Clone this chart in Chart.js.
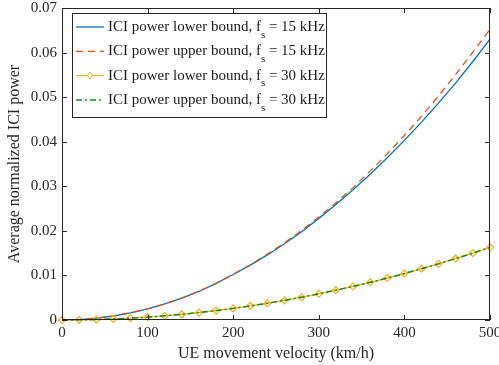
<!DOCTYPE html>
<html>
<head>
<meta charset="utf-8">
<script src="https://cdn.jsdelivr.net/npm/chart.js@4.4.1/dist/chart.umd.min.js"></script>
<style>
  html, body { margin: 0; padding: 0; background: #fff; }
  #wrap { width: 499px; height: 365px; }
</style>
</head>
<body>
<div id="wrap"><canvas id="iciChart" width="499" height="365"></canvas></div>
<script>
// velocity in km/h, one sample every 20 km/h
const velocity = [0, 20, 40, 60, 80, 100, 120, 140, 160, 180, 200, 220, 240, 260, 280, 300, 320, 340, 360, 380, 400, 420, 440, 460, 480, 500];

const lower15 = [0, 0.0001, 0.0004, 0.0009, 0.0016, 0.0025, 0.0036, 0.0049, 0.0064, 0.0082, 0.0102, 0.0123, 0.0146, 0.0171, 0.0198, 0.0228, 0.0259, 0.0292, 0.0327, 0.0364, 0.0403, 0.0444, 0.0487, 0.0532, 0.0580, 0.0630];
const upper15 = [0, 0.0001, 0.0004, 0.0009, 0.0016, 0.0025, 0.0036, 0.0049, 0.0065, 0.0082, 0.0103, 0.0124, 0.0148, 0.0173, 0.0201, 0.0231, 0.0263, 0.0297, 0.0334, 0.0373, 0.0414, 0.0457, 0.0503, 0.0551, 0.0601, 0.0652];
const lower30 = [0, 0.00003, 0.0001, 0.00024, 0.00042, 0.00065, 0.00094, 0.00128, 0.00167, 0.00211, 0.0026, 0.00316, 0.00376, 0.00441, 0.00511, 0.00587, 0.00668, 0.00754, 0.00845, 0.00941, 0.01043, 0.0115, 0.0126, 0.0138, 0.0150, 0.0163];
const upper30 = [0, 0.00003, 0.0001, 0.00024, 0.00042, 0.00065, 0.00094, 0.00128, 0.00167, 0.00211, 0.0026, 0.00316, 0.00376, 0.00441, 0.00511, 0.00587, 0.00668, 0.00754, 0.00845, 0.00941, 0.01043, 0.0115, 0.0126, 0.0138, 0.0150, 0.0163];

const xTicks = [0, 100, 200, 300, 400, 500];
const yTicks = [0, 0.01, 0.02, 0.03, 0.04, 0.05, 0.06, 0.07];

const legendLabels = [
    ['ICI power lower bound, f', 's', ' = 15 kHz'],
    ['ICI power upper bound, f', 's', ' = 15 kHz'],
    ['ICI power lower bound, f', 's', ' = 30 kHz'],
    ['ICI power upper bound, f', 's', ' = 30 kHz']
];

const serif = '"Liberation Serif", "DejaVu Serif", serif';

function pts(ys) {
    return velocity.map((v, i) => ({ x: v, y: ys[i] }));
}

// box around the axes plus inward ticks, matlab style
const boxPlugin = {
    id: 'boxPlugin',
    afterDraw(chart) {
        const { ctx, chartArea: a, scales } = chart;
        ctx.save();
        ctx.strokeStyle = '#262626';
        ctx.lineWidth = 1;
        ctx.strokeRect(a.left + 0.5, a.top + 0.5, a.right - a.left - 1, a.bottom - a.top - 1);
        ctx.beginPath();
        xTicks.forEach(t => {
            const px = Math.round(scales.x.getPixelForValue(t)) + 0.5;
            ctx.moveTo(px, a.bottom); ctx.lineTo(px, a.bottom - 5);
            ctx.moveTo(px, a.top); ctx.lineTo(px, a.top + 5);
        });
        yTicks.forEach(t => {
            const py = Math.round(scales.y.getPixelForValue(t)) + 0.5;
            ctx.moveTo(a.left, py); ctx.lineTo(a.left + 5, py);
            ctx.moveTo(a.right, py); ctx.lineTo(a.right - 5, py);
        });
        ctx.stroke();
        ctx.restore();
    }
};

// legend box drawn inside the plot, top left
const legendPlugin = {
    id: 'insideLegend',
    afterDraw(chart) {
        const { ctx, chartArea: a } = chart;
        const x0 = a.left + 10, y0 = a.top + 5, w = 254, h = 104;
        ctx.save();
        ctx.fillStyle = '#fff';
        ctx.fillRect(x0, y0, w, h);
        ctx.strokeStyle = '#262626';
        ctx.lineWidth = 1;
        ctx.strokeRect(x0 + 0.5, y0 + 0.5, w, h);
        chart.data.datasets.forEach((ds, i) => {
            const cy = y0 + 14 + i * 24.3;
            ctx.strokeStyle = ds.borderColor;
            ctx.lineWidth = ds.borderWidth;
            ctx.setLineDash(ds.borderDash || []);
            ctx.beginPath();
            ctx.moveTo(x0 + 4, cy);
            ctx.lineTo(x0 + 32, cy);
            ctx.stroke();
            ctx.setLineDash([]);
            if (ds.pointRadius > 0) {
                const r = 3.5, mx = x0 + 18;
                ctx.lineWidth = 1;
                ctx.beginPath();
                ctx.moveTo(mx, cy - r); ctx.lineTo(mx + r * 0.7, cy);
                ctx.lineTo(mx, cy + r); ctx.lineTo(mx - r * 0.7, cy);
                ctx.closePath();
                ctx.fillStyle = '#fff';
                ctx.fill();
                ctx.stroke();
            }
            const parts = legendLabels[i];
            ctx.fillStyle = '#1a1a1a';
            ctx.textBaseline = 'middle';
            ctx.font = '15px ' + serif;
            let tx = x0 + 36;
            ctx.fillText(parts[0], tx, cy);
            tx += ctx.measureText(parts[0]).width;
            ctx.font = '11px ' + serif;
            ctx.fillText(parts[1], tx, cy + 8);
            tx += ctx.measureText(parts[1]).width;
            ctx.font = '15px ' + serif;
            ctx.fillText(parts[2], tx, cy);
        });
        ctx.restore();
    }
};

const ctx = document.getElementById('iciChart').getContext('2d');
const iciChart = new Chart(ctx, {
    type: 'line',
    data: {
        datasets: [{
            label: 'lower15',
            data: pts(lower15),
            borderColor: '#0072BD',
            borderWidth: 1.3,
            pointRadius: 0,
            order: 4
        }, {
            label: 'upper15',
            data: pts(upper15),
            borderColor: '#D95319',
            borderWidth: 1.3,
            borderDash: [7, 5],
            pointRadius: 0,
            order: 3
        }, {
            label: 'lower30',
            data: pts(lower30),
            borderColor: '#EDB120',
            borderWidth: 1.3,
            pointStyle: 'rectRot',
            pointRadius: 3.5,
            pointBorderWidth: 1.2,
            pointBackgroundColor: 'rgba(255,255,255,0)',
            pointBorderColor: '#EDB120',
            order: 2
        }, {
            label: 'upper30',
            data: pts(upper30),
            borderColor: '#1a8a1a',
            borderWidth: 1.5,
            borderDash: [6, 3, 2, 3],
            pointRadius: 0,
            order: 1
        }]
    },
    options: {
        responsive: false,
        animation: false,
        clip: false,
        layout: { padding: { top: 8, right: 9, left: 0, bottom: 0 } },
        plugins: {
            legend: { display: false },
            tooltip: { enabled: false }
        },
        scales: {
            x: {
                type: 'linear',
                min: 0,
                max: 500,
                afterBuildTicks: s => { s.ticks = xTicks.map(v => ({ value: v })); },
                afterFit: s => { s.height = 45; s.paddingLeft = 0; s.paddingRight = 0; },
                grid: { display: false, drawTicks: false },
                border: { display: false },
                ticks: {
                    color: '#262626',
                    font: { family: serif, size: 15 },
                    padding: 4,
                    maxRotation: 0
                },
                title: {
                    display: true,
                    text: 'UE movement velocity (km/h)',
                    color: '#262626',
                    font: { family: serif, size: 16 },
                    padding: { top: 0, bottom: 2 }
                }
            },
            y: {
                type: 'linear',
                min: 0,
                max: 0.07,
                afterBuildTicks: s => { s.ticks = yTicks.map(v => ({ value: v })); },
                afterFit: s => { s.width = 62; s.paddingTop = 0; s.paddingBottom = 0; },
                grid: { display: false, drawTicks: false },
                border: { display: false },
                ticks: {
                    color: '#262626',
                    font: { family: serif, size: 15 },
                    padding: 5,
                    callback: v => (v === 0 ? '0' : v.toFixed(2))
                },
                title: {
                    display: true,
                    text: 'Average normalized ICI power',
                    color: '#262626',
                    font: { family: serif, size: 16 },
                    padding: { top: 5, bottom: 0 }
                }
            }
        }
    },
    plugins: [boxPlugin, legendPlugin]
});
</script>
</body>
</html>
